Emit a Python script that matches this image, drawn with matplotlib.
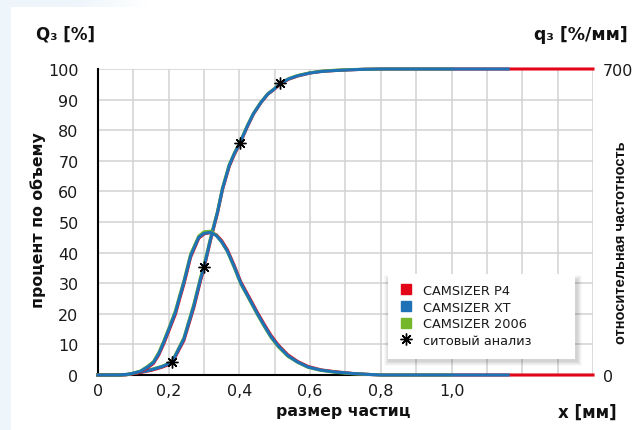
import matplotlib.pyplot as plt
import numpy as np
from matplotlib.patches import Rectangle
from matplotlib.colors import LinearSegmentedColormap

# particle size, mm (shared grid for the cumulative curves)
x_cum = [0, 0.08, 0.12, 0.15, 0.18, 0.209, 0.243, 0.271, 0.29, 0.30, 0.314, 0.323,
         0.338, 0.352, 0.371, 0.385, 0.402, 0.423, 0.44, 0.461, 0.48, 0.499, 0.516,
         0.54, 0.565, 0.60, 0.632, 0.67, 0.707, 0.75, 0.80]
# Q3, %
q_cum_xt = [0, 0.1, 0.9, 1.7, 2.7, 4.1, 11.8, 22.6, 31.4, 35.4, 42.3, 46.6,
            53.2, 60.8, 68.4, 72.2, 76.0, 81.5, 85.5, 89.1, 91.8, 93.5, 95.3,
            96.8, 97.8, 98.7, 99.2, 99.5, 99.7, 99.9, 100]
q_cum_p4 = [0, 0.1, 0.8, 1.5, 2.5, 3.8, 11.3, 22.0, 30.8, 34.9, 41.9, 46.2,
            52.9, 60.5, 68.1, 71.9, 75.8, 81.3, 85.3, 89.0, 91.7, 93.4, 95.2,
            96.7, 97.7, 98.7, 99.2, 99.5, 99.7, 99.9, 100]
q_cum_2006 = [0, 0.1, 1.0, 1.8, 2.8, 4.3, 12.2, 23.1, 31.9, 35.9, 42.8, 47.0,
              53.5, 61.1, 68.7, 72.4, 76.2, 81.7, 85.6, 89.2, 91.9, 93.6, 95.4,
              96.9, 97.9, 98.8, 99.3, 99.6, 99.8, 99.9, 100]

# particle size, mm (shared grid for the density curves)
x_den = [0, 0.06, 0.09, 0.12, 0.14, 0.157, 0.172, 0.186, 0.20, 0.219, 0.231, 0.243,
         0.262, 0.285, 0.30, 0.319, 0.335, 0.35, 0.366, 0.385, 0.404, 0.43, 0.451,
         0.47, 0.489, 0.51, 0.537, 0.565, 0.594, 0.63, 0.669, 0.72, 0.764, 0.80]
# q3 on the left-axis scale (700 %/mm = 100)
q_den_xt = [0, 0, 0.3, 1.2, 2.6, 4.1, 7.0, 10.7, 14.8, 20.5, 25.5, 30.3,
            39.0, 45.0, 46.3, 46.6, 45.5, 43.5, 40.5, 35.5, 30.0, 24.5, 20.0,
            16.2, 12.6, 9.5, 6.3, 4.2, 2.6, 1.6, 1.0, 0.5, 0.2, 0]
q_den_p4 = [0, 0, 0.2, 1.0, 2.3, 3.8, 6.6, 10.2, 14.3, 19.9, 24.9, 29.7,
            38.5, 44.7, 46.1, 46.6, 45.8, 43.9, 40.9, 35.9, 30.4, 24.9, 20.4,
            16.6, 13.0, 9.8, 6.6, 4.4, 2.8, 1.7, 1.1, 0.5, 0.2, 0]
q_den_2006 = [0, 0, 0.3, 1.3, 2.8, 4.4, 7.4, 11.1, 15.2, 21.0, 26.0, 30.8,
              39.5, 45.4, 46.8, 47.0, 45.6, 43.4, 40.3, 35.2, 29.7, 24.2, 19.7,
              15.9, 12.3, 9.2, 6.1, 4.1, 2.5, 1.5, 0.9, 0.4, 0.2, 0]

# last measured size of each instrument, mm
x_end_p4 = 1.4
x_end_xt = 1.16
x_end_2006 = 1.0

# sieve analysis
x_sieve = [0.209, 0.30, 0.402, 0.516]
q_sieve = [4.1, 35.4, 75.9, 95.3]

x_ticks = [0, 0.2, 0.4, 0.6, 0.8, 1.0]
x_tick_labels = ['0', '0,2', '0,4', '0,6', '0,8', '1,0']

c_p4 = '#e30618'
c_xt = '#1f72b6'
c_2006 = '#74b72a'
bg = '#eef5fb'
txt = '#1a1a1a'

W, H = 641, 431
fig = plt.figure(figsize=(W / 100, H / 100), dpi=100)
fig.patch.set_facecolor('white')


def px(x, y):
    """pixel position (from top-left) -> figure fraction"""
    return x / W, 1 - y / H


# page background strips
fig.add_artist(Rectangle((0, 0), 11 / W, 1, transform=fig.transFigure,
                         facecolor=bg, edgecolor='none', zorder=0))
gax = fig.add_axes([0, 1 - 8 / H, 150 / W, 8 / H])
grad = np.linspace(0, 1, 100)[None, :]
gax.imshow(grad, aspect='auto', cmap=LinearSegmentedColormap.from_list('bg', [bg, bg, 'white']))
gax.axis('off')

ax = fig.add_axes([98 / W, (H - 376) / H, 495 / W, 306 / H])
ax.set_xlim(0, 1.4)
ax.set_ylim(0, 100)
grid_x = np.round(np.arange(0, 1.41, 0.1), 1)
ax.set_xticks(grid_x)
ax.set_xticklabels([x_tick_labels[x_ticks.index(v)] if v in x_ticks else '' for v in grid_x])
ax.set_yticks(range(0, 101, 10))
ax.grid(True, color='#d2d2d2', linewidth=1.1)
ax.set_axisbelow(True)
for s in ['top', 'right']:
    ax.spines[s].set_visible(False)
for s in ['left', 'bottom']:
    ax.spines[s].set_color('black')
    ax.spines[s].set_linewidth(1.5)
ax.tick_params(axis='y', length=0, pad=14, labelsize=11.5, colors=txt)
ax.tick_params(axis='x', length=0, pad=6, labelsize=11.5, colors=txt)

lw = 2.2
for xs, ys, xe, c in [(x_cum, q_cum_p4, x_end_p4, c_p4),
                      (x_cum, q_cum_2006, x_end_2006, c_2006),
                      (x_cum, q_cum_xt, x_end_xt, c_xt)]:
    ax.plot(xs + [xe], ys + [ys[-1]], color=c, lw=lw, clip_on=False, zorder=3)
for xs, ys, xe, c in [(x_den, q_den_p4, x_end_p4, c_p4),
                      (x_den, q_den_2006, x_end_2006, c_2006),
                      (x_den, q_den_xt, x_end_xt, c_xt)]:
    ax.plot(xs + [xe], ys + [ys[-1]], color=c, lw=lw, clip_on=False, zorder=3)

star = (8, 2, 0)
ax.plot(x_sieve, q_sieve, linestyle='none', marker=star, markersize=8.5,
        markeredgewidth=1.0, color='black', zorder=5)

# right axis: q3
ax2 = ax.twinx()
ax2.set_ylim(0, 700)
ax2.set_yticks([0, 700])
for s in ax2.spines.values():
    s.set_visible(False)
ax2.tick_params(axis='y', length=0, pad=7, labelsize=11.5, colors=txt)

# legend box with a soft shadow
bx0, by0, bx1, by1 = 388, 275, 575, 360
for g, a in [(5, 0.025), (4, 0.03), (3, 0.035), (2, 0.04), (1, 0.045)]:
    x0, y0 = px(bx0 - g + 1, by1 + g + 2)
    x1, y1 = px(bx1 + g + 2, by0 - g + 6)
    fig.add_artist(Rectangle((x0, y0), x1 - x0, y1 - y0, transform=fig.transFigure,
                             facecolor='black', alpha=a, edgecolor='none', zorder=6))
x0, y0 = px(bx0, by1)
x1, y1 = px(bx1, by0)
fig.add_artist(Rectangle((x0, y0), x1 - x0, y1 - y0, transform=fig.transFigure,
                         facecolor='white', edgecolor='none', zorder=7))

handles = [
    plt.Line2D([], [], linestyle='none', marker='s', markersize=7, color=c_p4),
    plt.Line2D([], [], linestyle='none', marker='s', markersize=7, color=c_xt),
    plt.Line2D([], [], linestyle='none', marker='s', markersize=7, color=c_2006),
    plt.Line2D([], [], linestyle='none', marker=star, markersize=8.5,
               markeredgewidth=1.0, color='black'),
]
labels = ['CAMSIZER P4', 'CAMSIZER XT', 'CAMSIZER 2006', 'ситовый анализ']
leg = fig.legend(handles, labels, loc='upper left', bbox_to_anchor=px(400, 285),
                 bbox_transform=fig.transFigure, borderaxespad=0, borderpad=0,
                 fontsize=9.3, frameon=False, labelspacing=0.28,
                 handletextpad=0.9, handlelength=0.9)
leg.set_zorder(8)
for t in leg.get_texts():
    t.set_color(txt)

# axis titles
bold = dict(fontweight='bold', color='#111111')
fig.text(*px(36, 35), 'Q₃ [%]', ha='left', va='center', fontsize=12, **bold)
fig.text(*px(628, 35), 'q₃ [%/мм]', ha='right', va='center', fontsize=12.5, **bold)
fig.text(*px(343, 412), 'размер частиц', ha='center', va='center', fontsize=11.3, **bold)
fig.text(*px(617, 413), 'x [мм]', ha='right', va='center', fontsize=12, **bold)
fig.text(*px(38, 220), 'процент по объему', ha='center', va='center', rotation=90,
         fontsize=11.3, **bold)
fig.text(*px(621, 243), 'относительная частотность', ha='center', va='center', rotation=90,
         fontsize=10.5, family='Liberation Sans', **bold)

fig.savefig('out.png', dpi=100)
